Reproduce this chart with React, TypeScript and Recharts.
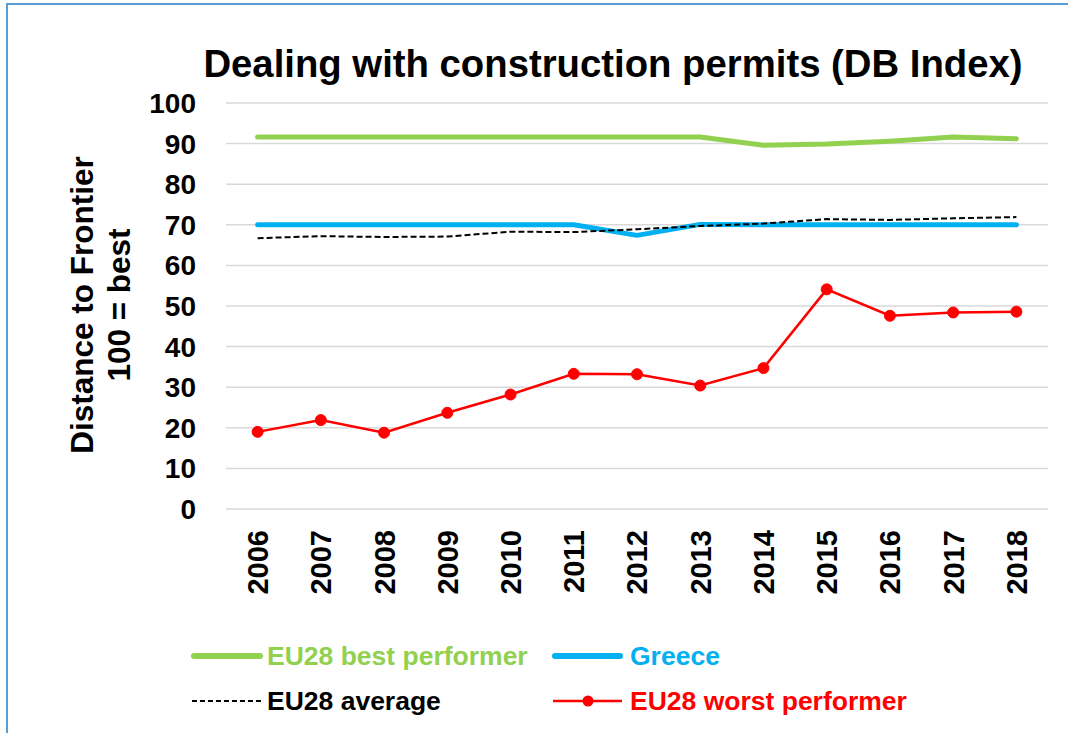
import React from 'react';
import { LineChart, Line, XAxis, YAxis, CartesianGrid, Legend } from 'recharts';

const FONT = '"Liberation Sans", Arial, Helvetica, sans-serif';

const years = ['2006', '2007', '2008', '2009', '2010', '2011', '2012', '2013', '2014', '2015', '2016', '2017', '2018'];
const bestPerformer = [91.6, 91.6, 91.6, 91.6, 91.6, 91.6, 91.6, 91.6, 89.6, 89.9, 90.6, 91.6, 91.2];
const greece = [70, 70, 70, 70, 70, 70, 67.4, 70.1, 70, 70, 70, 70, 70];
const euAverage = [66.7, 67.2, 67.0, 67.1, 68.3, 68.2, 68.9, 69.7, 70.3, 71.4, 71.2, 71.6, 71.9];
const worstPerformer = [19.0, 21.9, 18.8, 23.7, 28.2, 33.3, 33.2, 30.4, 34.7, 54.1, 47.6, 48.4, 48.6];
const yTicks = [0, 10, 20, 30, 40, 50, 60, 70, 80, 90, 100];

const titleText = 'Dealing with construction permits (DB Index)';
const yTitleLines = ['Distance to Frontier', '100 = best'];

const seriesNames = {
  best: 'EU28 best performer',
  greece: 'Greece',
  avg: 'EU28 average',
  worst: 'EU28 worst performer',
};

const data = years.map((year, i) => ({
  year,
  best: bestPerformer[i],
  greece: greece[i],
  avg: euAverage[i],
  worst: worstPerformer[i],
}));

const GREEN = '#92D050';
const BLUE = '#00B0F0';
const RED = '#FF0000';

const XTick = (props: any) => {
  const { x, y, payload } = props;
  return (
    <g transform={`translate(${x},${y + 21})`}>
      <text
        transform="rotate(-90)"
        textAnchor="end"
        dy="0.36em"
        fontFamily={FONT}
        fontWeight="bold"
        fontSize={29}
        fill="#000"
      >
        {payload.value}
      </text>
    </g>
  );
};

const LegendContent = () => {
  const textStyle = { fontFamily: FONT, fontWeight: 'bold' as const, fontSize: 26.5 };
  return (
    <svg width={1068} height={733} style={{ position: 'absolute', left: 0, top: 0 }}>
      <line x1={194} y1={656} x2={260} y2={656} stroke={GREEN} strokeWidth={6} strokeLinecap="round" />
      <text x={267} y={665} fill={GREEN} {...textStyle}>{seriesNames.best}</text>
      <line x1={555} y1={656} x2={620} y2={656} stroke={BLUE} strokeWidth={6} strokeLinecap="round" />
      <text x={630} y={665} fill={BLUE} {...textStyle}>{seriesNames.greece}</text>
      <line x1={192} y1={701} x2={262} y2={701} stroke="#000" strokeWidth={2} strokeDasharray="5 3" />
      <text x={267} y={710} fill="#000" {...textStyle}>{seriesNames.avg}</text>
      <line x1={553} y1={701} x2={622} y2={701} stroke={RED} strokeWidth={2.5} />
      <circle cx={588} cy={701} r={5.5} fill={RED} />
      <text x={630} y={710} fill={RED} {...textStyle}>{seriesNames.worst}</text>
    </svg>
  );
};

export default function App() {
  return (
    <div style={{ position: 'absolute', left: 0, top: 0, width: 1068, height: 733, overflow: 'hidden', background: '#fff' }}>
      <div
        style={{
          position: 'absolute',
          left: 6,
          top: 3,
          width: 1200,
          height: 900,
          borderLeft: '2px solid #5B9BD5',
          borderTop: '2px solid #5B9BD5',
        }}
      />
      <div style={{ position: 'absolute', left: 0, top: 0 }}>
        <LineChart width={1068} height={733} data={data} margin={{ top: 103, right: 20, bottom: 124, left: 0 }}>
          <CartesianGrid vertical={false} stroke="#D9D9D9" strokeWidth={1.5} />
          <XAxis
            dataKey="year"
            axisLine={false}
            tickLine={false}
            tickSize={0}
            tickMargin={0}
            height={100}
            interval={0}
            padding={{ left: 31.6, right: 31.6 }}
            tick={<XTick />}
          />
          <YAxis
            domain={[0, 100]}
            ticks={yTicks}
            interval={0}
            width={226}
            axisLine={false}
            tickLine={false}
            tickSize={0}
            tickMargin={30}
            tick={{ fontFamily: FONT, fontWeight: 'bold', fontSize: 28, fill: '#000' }}
          />
          <Legend
            layout="horizontal"
            verticalAlign="middle"
            align="center"
            wrapperStyle={{ position: 'absolute', left: 0, top: 0, width: 1068, height: 733, pointerEvents: 'none' }}
            content={<LegendContent />}
          />
          <Line
            type="linear"
            dataKey="best"
            name={seriesNames.best}
            stroke={GREEN}
            strokeWidth={5}
            strokeLinecap="round"
            strokeLinejoin="round"
            dot={false}
            activeDot={false}
            isAnimationActive={false}
          />
          <Line
            type="linear"
            dataKey="greece"
            name={seriesNames.greece}
            stroke={BLUE}
            strokeWidth={5}
            strokeLinecap="round"
            strokeLinejoin="round"
            dot={false}
            activeDot={false}
            isAnimationActive={false}
          />
          <Line
            type="linear"
            dataKey="avg"
            name={seriesNames.avg}
            stroke="#000"
            strokeWidth={2}
            strokeDasharray="6 3"
            dot={false}
            activeDot={false}
            isAnimationActive={false}
          />
          <Line
            type="linear"
            dataKey="worst"
            name={seriesNames.worst}
            stroke={RED}
            strokeWidth={2.5}
            dot={{ r: 5.5, fill: RED, stroke: RED, strokeWidth: 1 }}
            activeDot={false}
            isAnimationActive={false}
          />
        </LineChart>
      </div>
      <svg width={1068} height={733} style={{ position: 'absolute', left: 0, top: 0, pointerEvents: 'none' }}>
        <text x={613} y={77} textAnchor="middle" fontFamily={FONT} fontWeight="bold" fontSize={38.3} fill="#000">
          {titleText}
        </text>
        <text
          transform="translate(93,305) rotate(-90)"
          textAnchor="middle"
          fontFamily={FONT}
          fontWeight="bold"
          fontSize={31.5}
          fill="#000"
        >
          {yTitleLines[0]}
        </text>
        <text
          transform="translate(130,305) rotate(-90)"
          textAnchor="middle"
          fontFamily={FONT}
          fontWeight="bold"
          fontSize={31.5}
          fill="#000"
        >
          {yTitleLines[1]}
        </text>
      </svg>
    </div>
  );
}
